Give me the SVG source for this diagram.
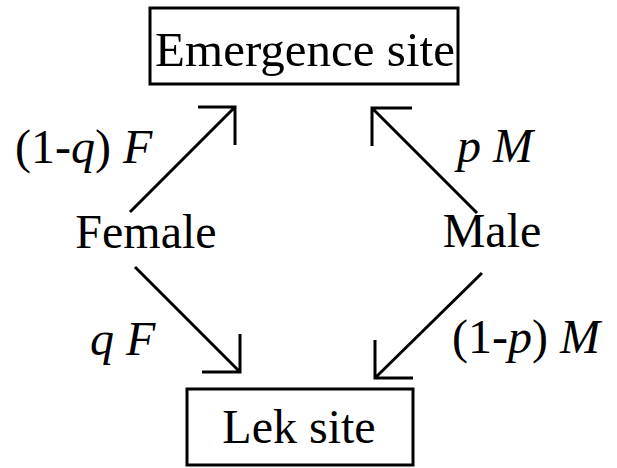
<svg xmlns="http://www.w3.org/2000/svg" width="617" height="468" viewBox="0 0 617 468">
  <style>
    .box { fill: #fff; stroke: #000; stroke-width: 3; }
    .lbl { font-family: "Liberation Serif", "Times New Roman", serif; font-size: 48px; fill: #000; }
    .it { font-style: italic; }
    .edge { fill: none; stroke: #000; stroke-width: 3; stroke-linecap: butt; stroke-linejoin: miter; }
  </style>
  <rect width="617" height="468" fill="#fff"/>

  <g id="emergence">
    <rect class="box" x="150" y="8" width="308" height="76"/>
    <text class="lbl" x="305" y="66" text-anchor="middle" style="font-size:49px">Emergence site</text>
  </g>

  <g id="lek">
    <rect class="box" x="187" y="389" width="226" height="76"/>
    <text class="lbl" x="299" y="443" text-anchor="middle">Lek site</text>
  </g>

  <g id="female">
    <text class="lbl" x="146" y="248" text-anchor="middle">Female</text>
  </g>

  <g id="male">
    <text class="lbl" x="492" y="247" text-anchor="middle">Male</text>
  </g>

  <g id="connectors">
    <!-- Female to Emergence site -->
    <path class="edge" d="M130,212 L235,107 M198,107 L235,107 L235,145"/>
    <!-- Female to Lek site -->
    <path class="edge" d="M135,267 L240,372 M240,334 L240,372 L202,372"/>
    <!-- Male to Emergence site -->
    <path class="edge" d="M477,213 L372,108 M412,108 L372,108 L372,146"/>
    <!-- Male to Lek site -->
    <path class="edge" d="M482,273 L375,378 M375,340 L375,378 L413,378"/>
  </g>

  <g id="labels">
    <text class="lbl" x="15" y="163">(1-<tspan class="it">q</tspan>) <tspan class="it">F</tspan></text>
    <text class="lbl" x="90" y="355"><tspan class="it">q F</tspan></text>
    <text class="lbl" x="457" y="162"><tspan class="it">p M</tspan></text>
    <text class="lbl" x="452" y="353">(1-<tspan class="it">p</tspan>) <tspan class="it">M</tspan></text>
  </g>
</svg>
